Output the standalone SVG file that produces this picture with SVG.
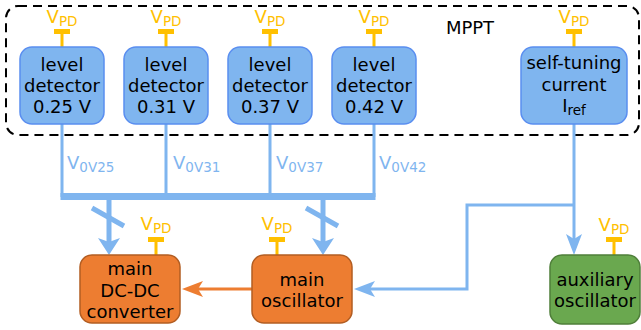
<svg xmlns="http://www.w3.org/2000/svg" width="641" height="330" viewBox="0 0 641 330">
  <style>
    text { font-family: "DejaVu Sans", "Liberation Sans", sans-serif; }
    .lbl { font-size: 18px; fill: #000; text-anchor: middle; }
    .vpd { font-size: 18px; fill: #ffc000; text-anchor: middle; }
    .sub { font-size: 13.5px; }
    .sig { font-size: 18px; fill: #7fb5ef; }
    .blue { fill: #7fb5ef; stroke: #5a8ef0; stroke-width: 1.5; }
    .orange { fill: #ed7d31; stroke: #b25d22; stroke-width: 1.5; }
    .green { fill: #6aa84f; stroke: #4f7f3a; stroke-width: 1.5; }
    .wire { fill: none; stroke: #7fb5ef; stroke-width: 3; }
    .bus { fill: none; stroke: #7fb5ef; stroke-width: 5; }
    .supply { fill: #ffc000; }
  </style>
  <defs>
    <marker id="headBig" markerUnits="userSpaceOnUse" markerWidth="17" markerHeight="22" viewBox="0 0 17 22" refX="4" refY="11" orient="auto">
      <path d="M0,0 L17,11 L0,22 L4,11 Z" fill="#7fb5ef"/>
    </marker>
    <marker id="headSmall" markerUnits="userSpaceOnUse" markerWidth="21" markerHeight="16" viewBox="0 0 21 16" refX="5" refY="8" orient="auto">
      <path d="M0,0 L21,8 L0,16 L5,8 Z" fill="#7fb5ef"/>
    </marker>
    <marker id="headOrange" markerUnits="userSpaceOnUse" markerWidth="21" markerHeight="16" viewBox="0 0 21 16" refX="5" refY="8" orient="auto">
      <path d="M0,0 L21,8 L0,16 L5,8 Z" fill="#ed7d31"/>
    </marker>
    <g id="tee">
      <rect x="-8" y="0" width="16" height="5"/>
      <rect x="-1.5" y="4" width="3" height="14"/>
    </g>
  </defs>

  <!-- MPPT boundary -->
  <rect x="6" y="6" width="633" height="129" rx="12" fill="none" stroke="#000" stroke-width="2" stroke-dasharray="9,6"/>
  <text x="470" y="34" class="lbl">MPPT</text>

  <!-- connectors -->
  <g id="connectors">
    <path class="wire" d="M62,124 V197 M166,124 V197 M270,124 V197 M374,124 V197"/>
    <path d="M60.5,196.5 H375.5" fill="none" stroke="#7fb5ef" stroke-width="7"/>
    <path class="bus" d="M109,199 V242" marker-end="url(#headBig)"/>
    <path class="bus" d="M323,199 V242" marker-end="url(#headBig)"/>
    <path class="bus" d="M92,208 L124,226 M306,208 L338,226"/>
    <path class="wire" d="M574,124 V239" marker-end="url(#headSmall)"/>
    <path class="wire" d="M574,205 H467 V289 H370" marker-end="url(#headSmall)"/>
    <path d="M252,289 H198" fill="none" stroke="#ed7d31" stroke-width="3" marker-end="url(#headOrange)"/>
    <text x="67" y="169" class="sig">V<tspan class="sub" dy="3">0V25</tspan></text>
    <text x="173" y="169" class="sig">V<tspan class="sub" dy="3">0V31</tspan></text>
    <text x="276" y="169" class="sig">V<tspan class="sub" dy="3">0V37</tspan></text>
    <text x="379" y="169" class="sig">V<tspan class="sub" dy="3">0V42</tspan></text>
  </g>

  <!-- level detectors -->
  <g id="ld025">
    <use href="#tee" x="62" y="29" class="supply"/>
    <text x="62" y="23" class="vpd">V<tspan class="sub" dy="3">PD</tspan></text>
    <rect x="20" y="47" width="84" height="77" rx="12" class="blue"/>
    <text x="62" y="71" class="lbl">level</text>
    <text x="62" y="92" class="lbl">detector</text>
    <text x="62" y="113" class="lbl">0.25 V</text>
  </g>
  <g id="ld031">
    <use href="#tee" x="166" y="29" class="supply"/>
    <text x="166" y="23" class="vpd">V<tspan class="sub" dy="3">PD</tspan></text>
    <rect x="124" y="47" width="84" height="77" rx="12" class="blue"/>
    <text x="166" y="71" class="lbl">level</text>
    <text x="166" y="92" class="lbl">detector</text>
    <text x="166" y="113" class="lbl">0.31 V</text>
  </g>
  <g id="ld037">
    <use href="#tee" x="270" y="29" class="supply"/>
    <text x="270" y="23" class="vpd">V<tspan class="sub" dy="3">PD</tspan></text>
    <rect x="228" y="47" width="84" height="77" rx="12" class="blue"/>
    <text x="270" y="71" class="lbl">level</text>
    <text x="270" y="92" class="lbl">detector</text>
    <text x="270" y="113" class="lbl">0.37 V</text>
  </g>
  <g id="ld042">
    <use href="#tee" x="374" y="29" class="supply"/>
    <text x="374" y="23" class="vpd">V<tspan class="sub" dy="3">PD</tspan></text>
    <rect x="332" y="47" width="84" height="77" rx="12" class="blue"/>
    <text x="374" y="71" class="lbl">level</text>
    <text x="374" y="92" class="lbl">detector</text>
    <text x="374" y="113" class="lbl">0.42 V</text>
  </g>

  <!-- self-tuning reference current -->
  <g id="iref">
    <use href="#tee" x="574" y="29" class="supply"/>
    <text x="574" y="23" class="vpd">V<tspan class="sub" dy="3">PD</tspan></text>
    <rect x="521" y="47" width="106" height="77" rx="12" class="blue"/>
    <text x="574" y="69" class="lbl">self-tuning</text>
    <text x="574" y="91" class="lbl">current</text>
    <text x="574" y="112" class="lbl">I<tspan class="sub" dy="3">ref</tspan></text>
  </g>

  <!-- main DC-DC converter -->
  <g id="dcdc">
    <use href="#tee" x="156" y="237" class="supply"/>
    <text x="156" y="230" class="vpd">V<tspan class="sub" dy="3">PD</tspan></text>
    <rect x="80" y="255" width="100" height="68" rx="12" class="orange"/>
    <text x="130" y="275" class="lbl">main</text>
    <text x="130" y="297" class="lbl">DC-DC</text>
    <text x="130" y="318" class="lbl">converter</text>
  </g>

  <!-- main oscillator -->
  <g id="mainosc">
    <use href="#tee" x="277" y="237" class="supply"/>
    <text x="277" y="230" class="vpd">V<tspan class="sub" dy="3">PD</tspan></text>
    <rect x="252" y="255" width="100" height="68" rx="12" class="orange"/>
    <text x="302" y="286" class="lbl">main</text>
    <text x="302" y="307" class="lbl">oscillator</text>
  </g>

  <!-- auxiliary oscillator -->
  <g id="auxosc">
    <use href="#tee" x="614" y="237" class="supply"/>
    <text x="614" y="231" class="vpd">V<tspan class="sub" dy="3">PD</tspan></text>
    <rect x="550" y="255" width="90" height="69" rx="12" class="green"/>
    <text x="595" y="286" class="lbl">auxiliary</text>
    <text x="595" y="307" class="lbl">oscillator</text>
  </g>
</svg>
